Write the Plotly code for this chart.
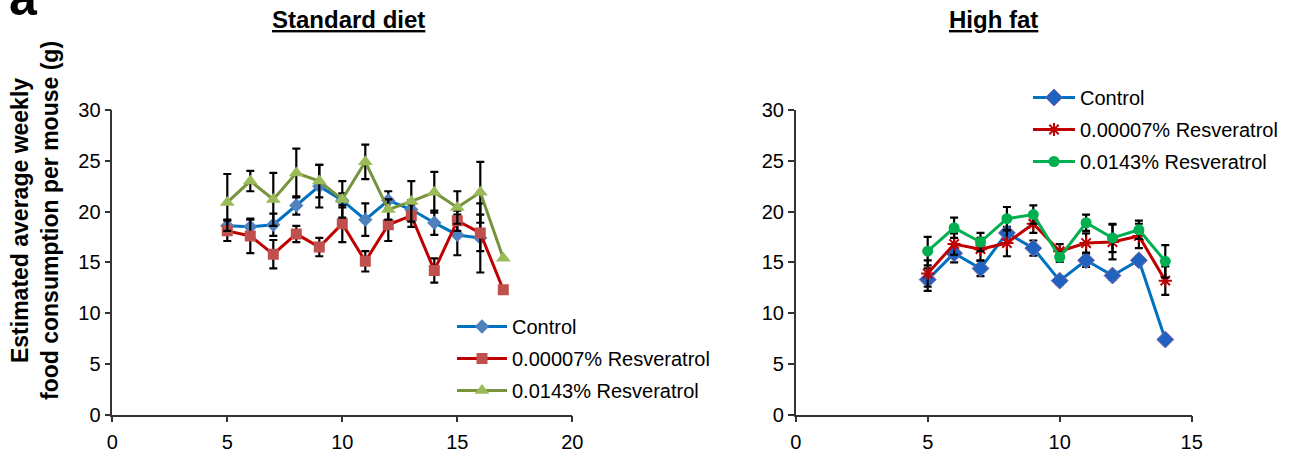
import plotly.graph_objects as go

# ---- Data: Standard diet (left) ----
sd_weeks_ctrl = [5, 6, 7, 8, 9, 10, 11, 12, 13, 14, 15, 16]
sd_ctrl = [18.6, 18.5, 18.7, 20.6, 22.5, 21.1, 19.2, 21.1, 20.2, 18.9, 17.7, 17.4]
sd_ctrl_err = [0.6, 0.7, 1.1, 0.9, 2.1, 0.7, 1.6, 0.9, 0.9, 1.2, 2.0, 3.4]

sd_weeks = [5, 6, 7, 8, 9, 10, 11, 12, 13, 14, 15, 16, 17]
sd_low = [18.1, 17.6, 15.8, 17.8, 16.5, 18.8, 15.1, 18.7, 19.6, 14.2, 19.1, 17.9, 12.3]
sd_low_err = [1.0, 1.7, 1.4, 0.8, 0.9, 1.8, 1.0, 1.6, 1.1, 1.2, 1.0, 1.8, None]
sd_high = [20.9, 23.0, 21.2, 23.8, 23.0, 21.2, 24.9, 20.2, 21.0, 21.9, 20.4, 21.9, 15.4]
sd_high_err = [2.8, 1.0, 2.6, 2.4, 1.6, 1.8, 1.7, 1.0, 2.0, 2.0, 1.6, 3.0, None]

# ---- Data: High fat (right) ----
hf_weeks = [5, 6, 7, 8, 9, 10, 11, 12, 13, 14]
hf_ctrl = [13.3, 15.9, 14.4, 17.9, 16.4, 13.2, 15.2, 13.7, 15.2, 7.4]
hf_ctrl_err = [1.1, 0.9, 0.75, 0.6, 0.75, 0.4, 0.65, 0.4, 0.4, None]
hf_low = [13.9, 16.8, 16.3, 16.9, 18.8, 16.1, 16.9, 17.0, 17.6, 13.2]
hf_low_err = [1.3, 1.05, 1.1, 1.3, 0.9, 0.7, 0.95, 1.7, 1.2, 1.4]
hf_high = [16.1, 18.4, 17.0, 19.3, 19.7, 15.5, 18.9, 17.4, 18.2, 15.1]
hf_high_err = [1.4, 1.0, 0.9, 1.15, 0.9, 0.45, 0.8, 1.4, 0.9, 1.6]

names = ["Control", "0.00007% Resveratrol", "0.0143% Resveratrol"]
x_ticks_left = [0, 5, 10, 15, 20]
x_ticks_right = [0, 5, 10, 15]
y_ticks = [0, 5, 10, 15, 20, 25, 30]

W, H = 1300, 462
FONT = "Liberation Sans, Arial, sans-serif"

def err(vals):
    return dict(type="data", array=vals, visible=True, color="black",
                thickness=2.2, width=4)

fig = go.Figure()

# Left panel traces
fig.add_trace(go.Scatter(x=sd_weeks_ctrl, y=sd_ctrl, name=names[0], mode="lines+markers",
                         line=dict(color="#0070C0", width=3),
                         marker=dict(symbol="diamond", size=11, color="#4F81BD"),
                         error_y=err(sd_ctrl_err), xaxis="x", yaxis="y",
                         legend="legend", legendgroup="l1"))
fig.add_trace(go.Scatter(x=sd_weeks, y=sd_low, name=names[1], mode="lines+markers",
                         line=dict(color="#C00000", width=3),
                         marker=dict(symbol="square", size=11, color="#C0504D"),
                         error_y=err(sd_low_err), xaxis="x", yaxis="y",
                         legend="legend", legendgroup="l2"))
fig.add_trace(go.Scatter(x=sd_weeks, y=sd_high, name=names[2], mode="lines+markers",
                         line=dict(color="#77933C", width=3),
                         marker=dict(symbol="triangle-up", size=13, color="#9BBB59"),
                         error_y=err(sd_high_err), xaxis="x", yaxis="y",
                         legend="legend", legendgroup="l3"))

# Right panel traces
fig.add_trace(go.Scatter(x=hf_weeks, y=hf_ctrl, name=names[0], mode="lines+markers",
                         line=dict(color="#0070C0", width=3),
                         marker=dict(symbol="diamond", size=13, color="#1F62C0",
                                     line=dict(color="#8064A2", width=1)),
                         error_y=err(hf_ctrl_err), xaxis="x2", yaxis="y2",
                         legend="legend2", legendgroup="r1"))
fig.add_trace(go.Scatter(x=hf_weeks, y=hf_low, name=names[1], mode="lines+markers",
                         line=dict(color="#C00000", width=3),
                         marker=dict(symbol="asterisk-open", size=11,
                                     line=dict(color="#E00000", width=2)),
                         error_y=err(hf_low_err), xaxis="x2", yaxis="y2",
                         legend="legend2", legendgroup="r2"))
fig.add_trace(go.Scatter(x=hf_weeks, y=hf_high, name=names[2], mode="lines+markers",
                         line=dict(color="#00B050", width=3),
                         marker=dict(symbol="circle", size=11, color="#00B050"),
                         error_y=err(hf_high_err), xaxis="x2", yaxis="y2",
                         legend="legend2", legendgroup="r3"))

# Geometry (pixel -> paper)
def px(x):
    return x / W

def py(y):
    return 1 - y / H

axis_common = dict(showgrid=False, zeroline=False, showline=True, linecolor="#333333",
                   linewidth=1.5, ticks="outside", ticklen=6, tickwidth=1.5,
                   tickcolor="#333333", tickfont=dict(family=FONT, size=20, color="black"),
                   fixedrange=True, automargin=False)

fig.update_layout(
    template="none",
    width=W, height=H,
    margin=dict(l=0, r=0, t=0, b=0, autoexpand=False),
    paper_bgcolor="white", plot_bgcolor="white",
    font=dict(family=FONT, color="black"),
    xaxis=dict(domain=[px(112.3), px(572.3)], range=[0, 20], tickvals=x_ticks_left,
               anchor="y", ticklabelstandoff=3, **axis_common),
    yaxis=dict(domain=[py(414.7), py(110)], range=[0, 30], tickvals=y_ticks,
               anchor="x", ticklabelstandoff=0, **axis_common),
    xaxis2=dict(domain=[px(795.7), px(1191.7)], range=[0, 15], tickvals=x_ticks_right,
                anchor="y2", ticklabelstandoff=3, **axis_common),
    yaxis2=dict(domain=[py(414.7), py(110)], range=[0, 30], tickvals=y_ticks,
                anchor="x2", ticklabelstandoff=0, **axis_common),
    legend=dict(x=px(452), y=py(307), xanchor="left", yanchor="top",
                font=dict(family=FONT, size=20, color="black"),
                bgcolor="rgba(0,0,0,0)", tracegroupgap=3, itemwidth=50),
    legend2=dict(x=px(1028), y=py(78), xanchor="left", yanchor="top",
                 font=dict(family=FONT, size=20, color="black"),
                 bgcolor="rgba(0,0,0,0)", tracegroupgap=3, itemwidth=42),
    showlegend=True,
)

annotations = [
    dict(text="<b><u>Standard diet</u></b>", x=px(348), y=py(4), xref="paper", yref="paper",
         xanchor="center", yanchor="top", showarrow=False,
         font=dict(family=FONT, size=24, color="black")),
    dict(text="<b><u>High fat</u></b>", x=px(993), y=py(4), xref="paper", yref="paper",
         xanchor="center", yanchor="top", showarrow=False,
         font=dict(family=FONT, size=24, color="black")),
    dict(text="<b>Estimated average weekly<br>food consumption per mouse (g)</b>",
         x=px(35), y=py(221), xref="paper", yref="paper", xanchor="center", yanchor="middle",
         textangle=-90, showarrow=False,
         font=dict(family=FONT, size=23, color="black")),
    dict(text="<b>a</b>", x=px(7), y=py(28), xref="paper", yref="paper",
         xanchor="left", yanchor="bottom", showarrow=False,
         font=dict(family=FONT, size=50, color="black")),
]
fig.update_layout(annotations=annotations)

fig.write_html("out.html", config={"displayModeBar": False},
               post_script="document.body.style.margin='0';")
